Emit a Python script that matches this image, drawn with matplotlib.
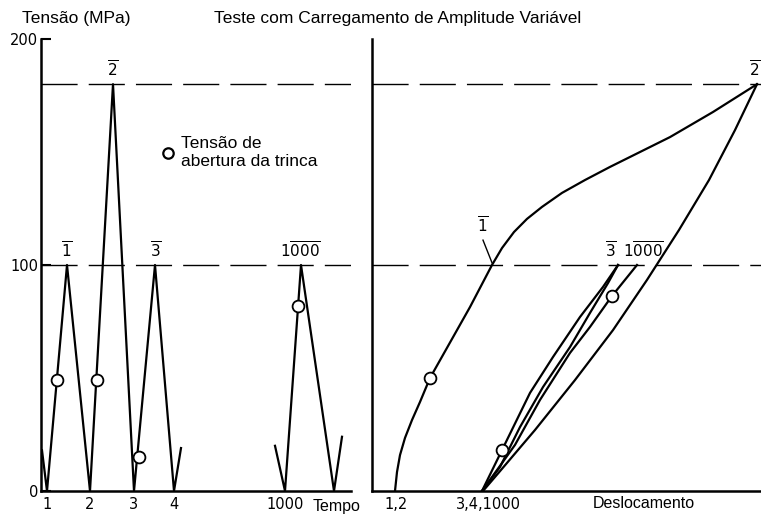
import matplotlib.pyplot as plt

plt.rcParams['font.family'] = ['Liberation Sans', 'DejaVu Sans']
plt.rcParams['mathtext.fontset'] = 'dejavusans'

# left panel: stress (MPa) vs time (arbitrary time units)
tempo_a = [0.1, 0.6, 2.6, 4.9, 7.2, 9.3, 11.4, 13.3, 14.0]
tensao_a = [18, 0, 100, 0, 180, 0, 100, 0, 19]
tempo_b = [23.4, 24.4, 26.0, 29.3, 30.1]
tensao_b = [20, 0, 100, 0, 24]
abertura_t = [1.6, 5.6, 9.8, 25.7]
abertura_s = [49, 49, 15, 82]
tempo_ticks = [0.6, 4.9, 9.3, 13.3, 24.4]
tempo_labels = ['1', '2', '3', '4', '1000']

# right panel: stress vs displacement (arbitrary units)
desl_12 = [2.3, 2.5, 2.8, 3.3, 4.0, 4.8, 5.8, 9.8, 12.0, 13.0, 14.2, 15.5, 17.0,
           19.0, 21.3, 23.8, 26.8, 29.8, 34.1, 38.5]
tens_12 = [0, 8.4, 15.9, 23.5, 31.4, 39.4, 50, 81.4, 100, 107.5, 114.6, 120.4, 125.7,
           131.9, 137.6, 143.4, 150.0, 156.6, 167.7, 180]
desl_2d = [38.5, 36.3, 33.7, 30.7, 27.5, 24.1, 20.3, 16.3, 12.9, 11.1]
tens_2d = [180, 159.7, 137.6, 115.5, 93.4, 71.2, 49.1, 27.0, 9.3, 0]
desl_3u = [11.0, 13.0, 15.8, 18.1, 20.8, 23.1, 24.6]
tens_3u = [0, 18.1, 43.4, 59.3, 77, 90.3, 100]
desl_3d = [24.6, 23.6, 21.8, 19.8, 17.1, 14.8, 12.8, 11.0]
tens_3d = [100, 92, 78.8, 63.7, 46, 28.3, 10.6, 0]
desl_1000 = [26.5, 24.0, 21.8, 19.8, 16.8, 14.3, 11.0]
tens_1000 = [100, 86.3, 72.6, 61.1, 40.3, 20.4, 0]
abertura_d = [5.8, 13.0, 24.0]
abertura_ds = [50, 18.1, 86.3]
desl_ticks = [2.4, 11.6]
desl_labels = ['1,2', '3,4,1000']

W, H = 761, 516
fig = plt.figure(figsize=(W / 100, H / 100), dpi=100)
axL = fig.add_axes([41 / W, 25 / H, 310 / W, 452 / H])
axR = fig.add_axes([372 / W, 25 / H, 389 / W, 452 / H])

lw = 1.6
circ = dict(marker='o', ls='none', ms=8.5, mfc='white', mec='k', mew=1.3, zorder=5)
dash = dict(color='k', lw=1.0, dashes=(26, 8))

for ax in (axL, axR):
    ax.set_ylim(0, 200)
    for s in ('top', 'right'):
        ax.spines[s].set_visible(False)
    for s in ('left', 'bottom'):
        ax.spines[s].set_linewidth(1.8)
    ax.tick_params(axis='x', length=0, pad=4, labelsize=10.5)
    ax.axhline(100, **dash)
    ax.axhline(180, **dash)

axL.set_xlim(0, 31)
axR.set_xlim(0, 38.9)

axL.plot(tempo_a, tensao_a, color='k', lw=lw)
axL.plot(tempo_b, tensao_b, color='k', lw=lw)
axL.plot(abertura_t, abertura_s, **circ)
axL.set_xticks(tempo_ticks, tempo_labels, fontfamily='DejaVu Sans')
axL.set_yticks([0, 100, 200], ['0', '100', '200'], fontfamily='DejaVu Sans')
axL.tick_params(axis='y', direction='in', length=7, width=1.5, pad=2, labelsize=10.5)

peak_lbl = dict(ha='center', va='bottom', fontsize=11)
axL.text(2.6, 102, r'$\overline{1}$', **peak_lbl)
axL.text(7.2, 182, r'$\overline{2}$', **peak_lbl)
axL.text(11.5, 102, r'$\overline{3}$', **peak_lbl)
axL.text(25.9, 102, r'$1\overline{000}$', **peak_lbl)

axR.plot(desl_12, tens_12, color='k', lw=lw)
axR.plot(desl_2d, tens_2d, color='k', lw=lw)
axR.plot(desl_3u, tens_3u, color='k', lw=lw)
axR.plot(desl_3d, tens_3d, color='k', lw=lw)
axR.plot(desl_1000, tens_1000, color='k', lw=lw)
axR.plot(abertura_d, abertura_ds, **circ)
axR.plot([11.1, 12.0], [111, 101], color='k', lw=1.0)
axR.set_xticks(desl_ticks, desl_labels, fontfamily='DejaVu Sans')
axR.set_yticks([])
axR.text(11.1, 113, r'$\overline{1}$', **peak_lbl)
axR.text(23.9, 102, r'$\overline{3}$', **peak_lbl)
axR.text(27.1, 102, r'$1\overline{000}$', **peak_lbl)
axR.text(38.85, 182, r'$\overline{2}$', ha='right', va='bottom', fontsize=11)

fig.text(22 / W, 1 - 18 / H, 'Tensão (MPa)', fontsize=12.5, va='center')
fig.text(398 / W, 1 - 18 / H, 'Teste com Carregamento de Amplitude Variável', fontsize=12.5, ha='center', va='center')
fig.text(337 / W, 1 - 507 / H, 'Tempo', fontsize=11.5, ha='center', va='center')
fig.text(644 / W, 1 - 504 / H, 'Deslocamento', fontsize=11.5, ha='center', va='center')

# legend
axL.plot([168 / W], [1 - 153 / H], transform=fig.transFigure, clip_on=False,
         marker='o', ms=7.5, mfc='white', mec='k', mew=1.6)
fig.text(181 / W, 1 - 152 / H, 'Tensão de\nabertura da trinca', fontsize=12.5, va='center', linespacing=1.25)

fig.savefig('out.png', dpi=100)
